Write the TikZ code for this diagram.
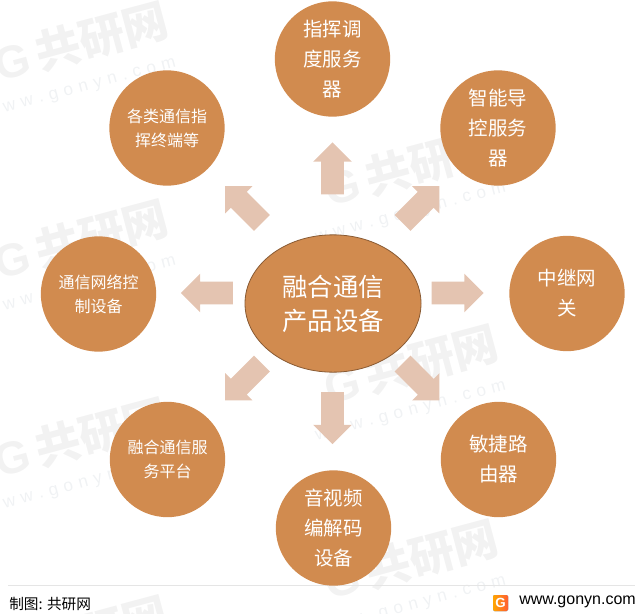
\documentclass[tikz,border=0pt]{standalone}
\usepackage{fontspec}
\setmainfont{Noto Sans CJK SC}
\newfontfamily\latinf{Liberation Sans}
\usetikzlibrary{shapes.arrows,shapes.geometric}
\definecolor{bub}{HTML}{D18B4F}
\definecolor{arr}{HTML}{E4C4B1}
\definecolor{wmk}{HTML}{F2F2F2}
\definecolor{wmt}{HTML}{F0F2F4}
\newcommand{\fs}[2]{\fontsize{#1}{#2}\selectfont}
\newcommand{\shaftbox}{\rule{0pt}{16.5pt}}
\tikzset{
  bubble/.style={circle,fill=bub,draw=none,minimum size=86.5pt,inner sep=0pt,text=white,align=center},
  big/.style={bubble,font=\fs{14.6}{22.5}},
  small/.style={bubble,font=\fs{12}{18}},
  core/.style={ellipse,fill=bub,draw=bub!65!black,line width=.6pt,minimum width=132pt,minimum height=103pt,inner sep=0pt,text=white,align=center,font=\fs{19}{25.5}},
  blockarr/.style={single arrow,fill=arr,draw=none,minimum width=28.5pt,minimum height=39pt,single arrow head extend=6pt,single arrow tip angle=90,inner sep=0pt},
  wm/.style={text=wmk,font=\bfseries\fs{34}{34},rotate=15,inner sep=0pt},
  wmu/.style={text=wmt,font=\latinf\fs{13}{13},rotate=15,inner sep=0pt},
}
\begin{document}
\begin{tikzpicture}[x=0.75pt,y=-0.75pt]
\useasboundingbox (0,0) rectangle (641,613);
\clip (0,0) rectangle (641,613);
% watermarks
\foreach \n/\px/\py in {a/81/42,b/81/240,c/411/167,d/411/365,e/81/438,f/411/560,g/81/636}{
  \begin{scope}[shift={(\px,\py)}]
    \node[wm] (wm\n) at (0,0) {{\latinf G}\,共研网};
    \node[wmu] (wu\n) at (0,47) {w\,\,w\,\,w\,\,.\,\,g\,\,o\,\,n\,\,y\,\,n\,\,.\,\,c\,\,o\,\,m};
  \end{scope}
}
% footer
\coordinate (fl) at (8,585);
\coordinate (fr) at (635,585);
\draw[color=black!10,line width=.6pt] (fl) -- (fr);
\node[anchor=west,inner sep=0pt,font=\fs{11}{12}] (src) at (9,604) {制图: 共研网};
\node[anchor=east,inner sep=0pt,font=\latinf\fs{12}{14}] (url) at (636,602) {www.gonyn.com};
\fill[left color=orange!70!yellow,right color=red!60!orange!80,rounded corners=1pt] (493,595) rectangle (508,611);
\node[text=white,font=\latinf\bfseries\fs{10}{10},inner sep=0pt] (logo) at (500.5,603) {G};
% arrows
\node[blockarr,rotate=0] (ar) at (452,293) {\shaftbox};
\node[blockarr,rotate=90] (au) at (332.5,174) {\shaftbox};
\node[blockarr,rotate=180] (al) at (212.5,293) {\shaftbox};
\node[blockarr,rotate=270] (ad) at (332.5,412.5) {\shaftbox};
\node[blockarr,rotate=45] (ane) at (417,208.5) {\shaftbox};
\node[blockarr,rotate=135] (anw) at (247.5,208.5) {\shaftbox};
\node[blockarr,rotate=225] (asw) at (247.5,378) {\shaftbox};
\node[blockarr,rotate=315] (ase) at (417,378) {\shaftbox};
% bubbles
\node[core] (c) at (333,303.5) {融合通信\\产品设备};
\node[big] (n1) at (332.5,59) {指挥调\\度服务\\器};
\node[big] (n2) at (498,128) {智能导\\控服务\\器};
\node[big] (n3) at (567,293.5) {中继网\\关};
\node[big] (n4) at (498.5,459.5) {敏捷路\\由器};
\node[big] (n5) at (333.5,528) {音视频\\编解码\\设备};
\node[small] (n6) at (167.5,459.5) {融合通信服\\务平台};
\node[small] (n7) at (98.5,294) {通信网络控\\制设备};
\node[small] (n8) at (167,128) {各类通信指\\挥终端等};
\end{tikzpicture}
\end{document}
